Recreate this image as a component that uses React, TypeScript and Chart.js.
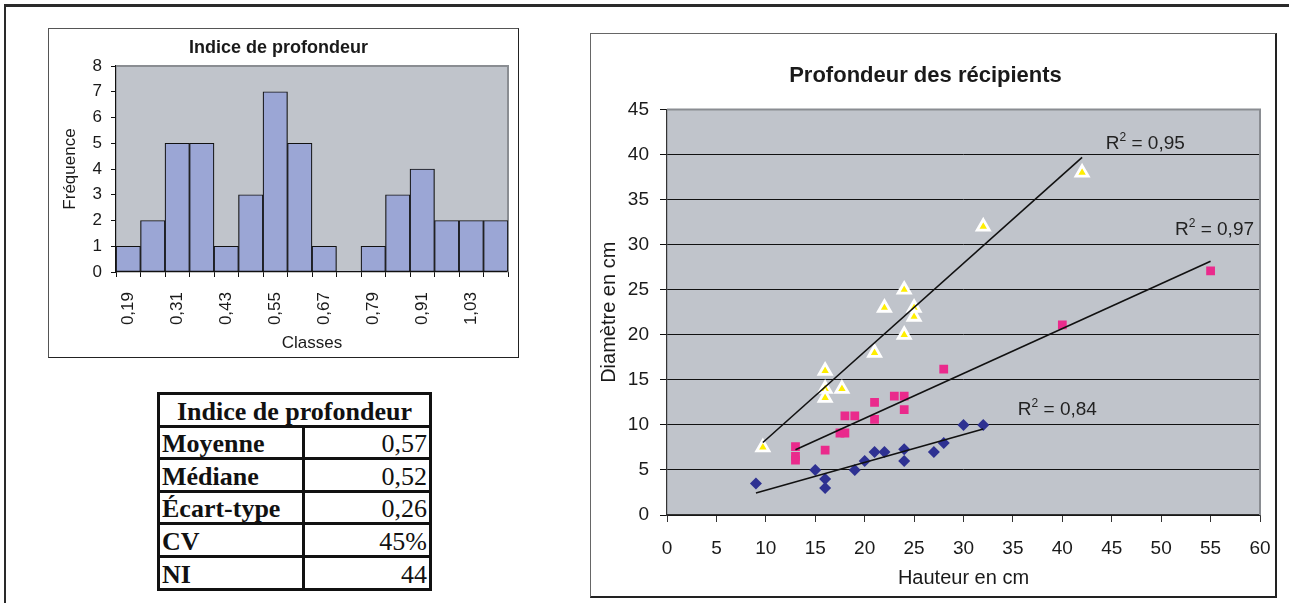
import React, { useEffect, useRef } from 'react';
import { Chart, registerables } from 'chart.js';

Chart.register(...registerables);
Chart.defaults.font.family = '"Liberation Sans", Arial, sans-serif';

// ---------- Histogram data ----------
const histClasses = ['0,19', '0,25', '0,31', '0,37', '0,43', '0,49', '0,55', '0,61', '0,67', '0,73', '0,79', '0,85', '0,91', '0,97', '1,03', '1,09'];
const histFreq = [1, 2, 5, 5, 1, 3, 7, 5, 1, 0, 1, 3, 4, 2, 2, 2];
const histYMax = 8;

// ---------- Table data ----------
const statTitle = 'Indice de profondeur';
const statLabels = ['Moyenne', 'Médiane', 'Écart-type', 'CV', 'NI'];
const statValues = ['0,57', '0,52', '0,26', '45%', '44'];

// ---------- Scatter data ----------
const blueX = [9, 15, 16, 16, 19, 20, 21, 22, 24, 24, 27, 28, 30, 32];
const blueY = [3.5, 5, 4, 3, 5, 6, 7, 7, 7.3, 6, 7, 8, 10, 10];
const pinkX = [13, 13, 13, 16, 17.5, 18, 18, 19, 21, 21, 23, 24, 24, 28, 40, 55];
const pinkY = [7.6, 6.5, 6.1, 7.2, 9.1, 9.1, 11, 11, 12.5, 10.6, 13.2, 13.2, 11.7, 16.2, 21.1, 27.1];
const yellowX = [9.7, 16, 16, 16, 17.7, 21, 24, 24, 22, 25, 25, 32, 42];
const yellowY = [7.5, 16, 14, 13, 14, 18, 20, 25, 23, 23, 22, 32, 38];
const r2Texts = ['0,84', '0,97', '0,95'];
const scatterXMax = 60;
const scatterYMax = 45;
const scatterStep = 5;

// annotation anchors (data units) for R² labels
const r2Anchors = [
  { x: 35.5, y: 11.65 },
  { x: 51.4, y: 31.7 },
  { x: 44.4, y: 41.25 },
];

const FONT = '"Liberation Sans", Arial, sans-serif';
const TEXT = '#1a1a1a';
const PLOT_BG = '#c0c4cb';

function fit(xs: number[], ys: number[]) {
  const n = xs.length;
  const mx = xs.reduce((s, v) => s + v, 0) / n;
  const my = ys.reduce((s, v) => s + v, 0) / n;
  let sxy = 0, sxx = 0;
  for (let i = 0; i < n; i++) {
    sxy += (xs[i] - mx) * (ys[i] - my);
    sxx += (xs[i] - mx) * (xs[i] - mx);
  }
  const b = sxy / sxx;
  return { a: my - b * mx, b };
}

function trend(xs: number[], ys: number[]) {
  const { a, b } = fit(xs, ys);
  const x0 = Math.min(...xs);
  const x1 = Math.max(...xs);
  return [{ x: x0, y: a + b * x0 }, { x: x1, y: a + b * x1 }];
}

const pts = (xs: number[], ys: number[]) => xs.map((x, i) => ({ x, y: ys[i] }));

const zeroPad = (a: any) => {
  a.paddingLeft = 0;
  a.paddingRight = 0;
  a.paddingTop = 0;
  a.paddingBottom = 0;
};

const plotBg = {
  id: 'plotBg',
  beforeDraw(chart: any) {
    const { ctx, chartArea } = chart;
    const { left, top, right, bottom } = chartArea;
    ctx.save();
    ctx.fillStyle = PLOT_BG;
    ctx.fillRect(left, top, right - left, bottom - top);
    ctx.restore();
  },
  beforeDatasetsDraw(chart: any) {
    const { ctx, chartArea } = chart;
    const { left, top, right, bottom } = chartArea;
    ctx.save();
    ctx.strokeStyle = '#8a8d92';
    ctx.lineWidth = 2;
    ctx.beginPath();
    ctx.moveTo(left, top);
    ctx.lineTo(right, top);
    ctx.lineTo(right, bottom);
    ctx.stroke();
    ctx.restore();
  },
};

const r2Plugin = {
  id: 'r2labels',
  afterDatasetsDraw(chart: any) {
    const { ctx, scales } = chart;
    ctx.save();
    ctx.fillStyle = '#222';
    ctx.textBaseline = 'middle';
    ctx.textAlign = 'left';
    r2Texts.forEach((t, i) => {
      let px = scales.x.getPixelForValue(r2Anchors[i].x);
      const py = scales.y.getPixelForValue(r2Anchors[i].y);
      ctx.font = `19px ${FONT}`;
      ctx.fillText('R', px, py);
      px += ctx.measureText('R').width;
      ctx.font = `12px ${FONT}`;
      ctx.fillText('2', px, py - 6);
      px += ctx.measureText('2').width;
      ctx.font = `19px ${FONT}`;
      ctx.fillText(' = ' + t, px, py);
    });
    ctx.restore();
  },
};

function Histogram() {
  const ref = useRef<HTMLCanvasElement>(null);
  useEffect(() => {
    const chart = new Chart(ref.current!, {
      type: 'bar',
      data: {
        labels: histClasses,
        datasets: [
          {
            data: histFreq,
            backgroundColor: '#9ba6d5',
            borderColor: '#111',
            borderWidth: 1.2,
            borderSkipped: false,
            barPercentage: 1,
            categoryPercentage: 1,
          },
        ],
      },
      options: {
        animation: false,
        responsive: false,
        layout: { padding: { left: 0, right: 10, top: 0, bottom: 0 } },
        plugins: {
          legend: { display: false },
          tooltip: { enabled: false },
          title: {
            display: true,
            text: 'Indice de profondeur',
            color: TEXT,
            font: { size: 18, weight: 'bold' },
            padding: { top: 8.5, bottom: 6.9 },
          },
        },
        scales: {
          x: {
            grid: { drawOnChartArea: false, drawTicks: true, tickLength: 5, color: '#111', offset: true },
            border: { color: '#111', width: 1.2 },
            ticks: {
              autoSkip: false,
              minRotation: 90,
              maxRotation: 90,
              color: TEXT,
              font: { size: 17 },
              padding: 15,
              callback: (_v: any, i: number) => (i % 2 === 0 ? histClasses[i] : ''),
            },
            title: { display: true, text: 'Classes', color: TEXT, font: { size: 17 }, padding: { top: 0, bottom: 3.8 } },
            afterFit: (a: any) => {
              a.height = 85;
              zeroPad(a);
            },
          },
          y: {
            min: 0,
            max: histYMax,
            grid: { drawOnChartArea: false, drawTicks: true, tickLength: 5, color: '#111' },
            border: { color: '#111', width: 1.2 },
            ticks: { stepSize: 1, color: TEXT, font: { size: 17 }, padding: 9 },
            title: { display: true, text: 'Fréquence', color: TEXT, font: { size: 17 }, padding: { top: 10.8, bottom: 0 } },
            afterFit: (a: any) => {
              a.width = 67;
              zeroPad(a);
            },
          },
        },
      } as any,
      plugins: [plotBg],
    });
    return () => chart.destroy();
  }, []);
  return <canvas ref={ref} width={469} height={328} style={{ position: 'absolute', left: 0, top: 0, width: 469, height: 328 }} />;
}

function Scatter() {
  const ref = useRef<HTMLCanvasElement>(null);
  useEffect(() => {
    const lineDs = (data: any[]) => ({
      type: 'line' as const,
      data,
      borderColor: '#111',
      borderWidth: 1.6,
      pointRadius: 0,
      fill: false,
      showLine: true,
    });
    const chart = new Chart(ref.current!, {
      type: 'scatter',
      data: {
        datasets: [
          lineDs(trend(blueX, blueY)),
          lineDs(trend(pinkX, pinkY)),
          lineDs(trend(yellowX, yellowY)),
          {
            data: pts(blueX, blueY),
            pointStyle: 'rectRot',
            pointRadius: 6,
            backgroundColor: '#2e3192',
            borderColor: '#2e3192',
            borderWidth: 0,
          },
          {
            data: pts(pinkX, pinkY),
            pointStyle: 'rect',
            pointRadius: 6.2,
            backgroundColor: '#ea2a8c',
            borderColor: '#ea2a8c',
            borderWidth: 0,
          },
          {
            data: pts(yellowX, yellowY),
            pointStyle: 'triangle',
            pointRadius: 7,
            backgroundColor: '#ffee00',
            borderColor: '#ffffff',
            borderWidth: 2.8,
          },
        ] as any,
      },
      options: {
        animation: false,
        responsive: false,
        layout: { padding: { left: 0, right: 15, top: 0, bottom: 0 } },
        plugins: {
          legend: { display: false },
          tooltip: { enabled: false },
          title: {
            display: true,
            text: 'Profondeur des récipients',
            color: TEXT,
            font: { size: 22, weight: 'bold' },
            padding: { top: 29, bottom: 20.1 },
          },
        },
        scales: {
          x: {
            type: 'linear',
            min: 0,
            max: scatterXMax,
            grid: { drawOnChartArea: false, drawTicks: true, tickLength: 7, color: '#333' },
            border: { color: '#333', width: 1.2 },
            ticks: { stepSize: scatterStep, color: TEXT, font: { size: 19 }, padding: 15.6 },
            title: { display: true, text: 'Hauteur en cm', color: TEXT, font: { size: 20 }, padding: { top: 0, bottom: 6 } },
            afterFit: (a: any) => {
              a.height = 81;
              zeroPad(a);
            },
          },
          y: {
            min: 0,
            max: scatterYMax,
            grid: { drawOnChartArea: true, drawTicks: true, tickLength: 7, color: '#111', lineWidth: 1 },
            border: { color: '#333', width: 1.2 },
            ticks: { stepSize: scatterStep, color: TEXT, font: { size: 19 }, padding: 11 },
            title: { display: true, text: 'Diamètre en cm', color: TEXT, font: { size: 20 }, padding: { top: 6.5, bottom: 0 } },
            afterFit: (a: any) => {
              a.width = 76;
              zeroPad(a);
            },
          },
        },
      } as any,
      plugins: [plotBg, r2Plugin],
    });
    return () => chart.destroy();
  }, []);
  return <canvas ref={ref} width={684} height={562} style={{ position: 'absolute', left: 0, top: 0, width: 684, height: 562 }} />;
}

function StatTable() {
  const border = '3px solid #111';
  const cell: React.CSSProperties = {
    border,
    height: 29.6,
    padding: '0 2px',
    lineHeight: 1,
    verticalAlign: 'bottom',
    fontSize: 26,
  };
  return (
    <table
      style={{
        position: 'absolute',
        left: 157,
        top: 392,
        width: 272,
        borderCollapse: 'collapse',
        fontFamily: '"Liberation Serif", "Times New Roman", serif',
        color: '#111',
        tableLayout: 'fixed',
      }}
    >
      <colgroup>
        <col style={{ width: 145 }} />
        <col style={{ width: 127 }} />
      </colgroup>
      <tbody>
        <tr>
          <td colSpan={2} style={{ ...cell, fontWeight: 'bold', textAlign: 'center', whiteSpace: 'nowrap' }}>
            {statTitle}
          </td>
        </tr>
        {statLabels.map((l, i) => (
          <tr key={l}>
            <td style={{ ...cell, fontWeight: 'bold', textAlign: 'left', whiteSpace: 'nowrap' }}>{l}</td>
            <td style={{ ...cell, textAlign: 'right' }}>{statValues[i]}</td>
          </tr>
        ))}
      </tbody>
    </table>
  );
}

export default function App() {
  return (
    <div style={{ position: 'fixed', left: 0, top: 0, width: 1289, height: 603, background: '#fff', overflow: 'hidden' }}>
      <div
        style={{
          position: 'absolute',
          left: 4,
          top: 4,
          width: 1400,
          height: 700,
          borderTop: '3px solid #2a2a2a',
          borderLeft: '2px solid #2a2a2a',
        }}
      />
      <div
        style={{
          position: 'absolute',
          left: 48,
          top: 28,
          width: 471,
          height: 330,
          boxSizing: 'border-box',
          borderTop: '1px solid #555',
          borderLeft: '1px solid #555',
          borderRight: '1px solid #222',
          borderBottom: '1px solid #222',
        }}
      >
        <Histogram />
      </div>
      <StatTable />
      <div
        style={{
          position: 'absolute',
          left: 590,
          top: 33,
          width: 687,
          height: 565,
          boxSizing: 'border-box',
          borderTop: '1px solid #666',
          borderLeft: '1px solid #666',
          borderRight: '2px solid #222',
          borderBottom: '2px solid #222',
        }}
      >
        <Scatter />
      </div>
    </div>
  );
}
